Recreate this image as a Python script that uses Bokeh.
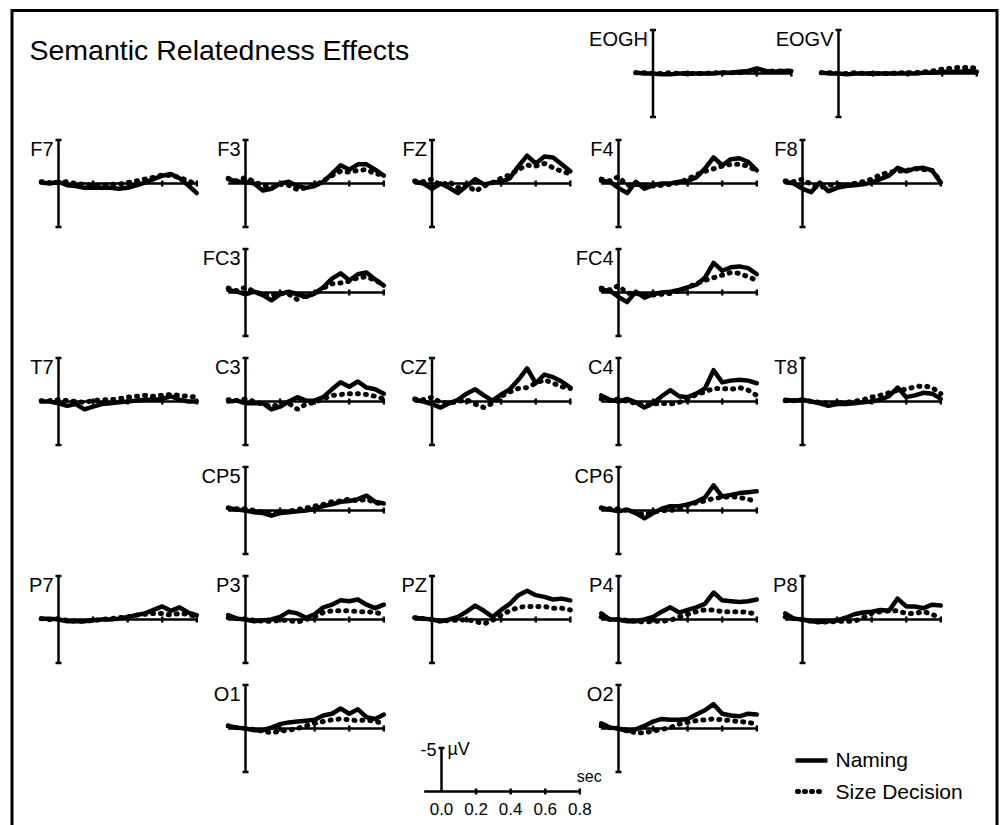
from bokeh.plotting import figure
from bokeh.models import Range1d
from bokeh.core.properties import value
from bokeh.embed import file_html
from bokeh.resources import INLINE

# ---------------- data (microvolts, negative plotted upward) ----------------
times = [-0.1, -0.05, 0.0, 0.05, 0.1, 0.15, 0.2, 0.25, 0.3, 0.35,
         0.4, 0.45, 0.5, 0.55, 0.6, 0.65, 0.7, 0.75, 0.8]

EOGH_naming = [-0.1, 0.0, 0.0, 0.1, 0.1, 0.0, 0.0, 0.0, 0.0, 0.0, -0.1, -0.1, -0.2, -0.3, -0.6, -0.3, -0.2, -0.3, -0.3]
EOGH_size = [-0.1, -0.1, 0.0, 0.0, -0.1, 0.0, 0.0, 0.0, 0.0, -0.1, -0.1, -0.1, -0.1, -0.2, -0.3, -0.2, -0.3, -0.3, -0.3]
EOGV_naming = [-0.1, 0.0, 0.0, 0.1, 0.0, 0.0, 0.0, 0.0, 0.0, 0.0, 0.0, 0.0, -0.1, -0.1, -0.2, -0.2, -0.2, -0.3, -0.2]
EOGV_size = [-0.1, -0.1, 0.0, 0.0, -0.1, 0.0, 0.0, 0.0, 0.0, -0.1, -0.1, -0.1, -0.2, -0.3, -0.5, -0.6, -0.7, -0.7, -0.6]

F7_naming = [-0.1, 0.0, -0.2, 0.2, 0.3, 0.5, 0.5, 0.5, 0.5, 0.6, 0.5, 0.2, -0.1, -0.5, -0.9, -1.1, -0.6, 0.2, 1.1]
F7_size = [-0.2, -0.1, -0.1, -0.2, 0.0, 0.1, 0.2, 0.2, 0.1, 0.1, -0.1, -0.3, -0.5, -0.7, -1.0, -0.9, -0.7, -0.3, 0.1]
F3_naming = [-0.5, -0.2, -0.2, 0.0, 0.8, 0.6, 0.0, -0.2, 0.3, 0.5, 0.3, -0.2, -1.1, -2.1, -1.6, -2.2, -2.2, -1.6, -0.9]
F3_size = [-0.6, -0.3, -0.7, -0.2, 0.2, 0.5, 0.1, 0.2, 0.7, 0.5, 0.2, -0.3, -0.9, -1.4, -1.3, -1.5, -1.6, -1.1, -1.0]
FZ_naming = [-0.2, 0.0, 0.6, 0.0, 0.5, 1.1, 0.3, -0.5, 0.1, -0.1, -0.2, -0.6, -2.0, -3.2, -2.3, -3.1, -3.0, -2.2, -1.4]
FZ_size = [-0.3, -0.2, -0.5, 0.2, -0.2, 0.5, 0.1, 0.9, 0.3, -0.1, -0.6, -1.0, -1.6, -2.1, -2.0, -2.3, -1.8, -1.4, -1.1]
F4_naming = [-0.3, -0.2, 0.5, 1.1, -0.2, 0.6, 0.2, 0.0, 0.0, -0.2, -0.3, -0.7, -1.7, -3.0, -2.1, -2.8, -2.9, -2.5, -1.5]
F4_size = [-0.5, -0.3, -0.8, 0.2, 0.1, 0.2, 0.3, 0.2, 0.1, -0.1, -0.5, -1.0, -1.4, -1.7, -2.0, -2.2, -2.2, -2.0, -1.4]
F8_naming = [-0.2, 0.0, 0.6, 1.0, -0.1, 0.9, 0.5, 0.3, 0.2, 0.1, -0.1, -0.5, -0.9, -1.8, -1.4, -1.7, -1.8, -1.5, -0.1]
F8_size = [-0.3, -0.2, -0.5, 0.1, 0.5, 0.2, 0.1, 0.2, 0.0, -0.2, -0.5, -1.0, -1.3, -1.4, -1.5, -1.7, -1.6, -1.5, -0.2]

FC3_naming = [-0.3, -0.1, 0.2, -0.1, 0.3, 0.9, 0.2, -0.1, 0.2, 0.5, 0.1, -0.6, -1.6, -2.2, -1.4, -2.1, -2.3, -1.5, -0.8]
FC3_size = [-0.5, -0.2, -0.6, -0.1, 0.2, 0.3, 0.1, 0.2, 0.8, 0.3, 0.2, -0.5, -1.0, -1.1, -1.3, -1.7, -1.8, -1.4, -0.9]
FC4_naming = [-0.3, -0.2, 0.5, 1.1, -0.1, 0.6, 0.2, 0.0, -0.1, -0.3, -0.6, -0.9, -1.7, -3.4, -2.5, -2.9, -3.0, -2.8, -2.1]
FC4_size = [-0.5, -0.3, -0.8, 0.1, 0.1, 0.3, 0.3, 0.2, 0.1, -0.2, -0.6, -1.0, -1.4, -1.7, -2.0, -2.3, -2.2, -1.8, -1.4]

T7_naming = [0.0, 0.0, 0.2, 0.5, 0.3, 0.9, 0.6, 0.3, 0.2, 0.1, 0.0, -0.1, -0.2, -0.2, -0.3, -0.6, -0.2, 0.0, 0.0]
T7_size = [-0.1, -0.1, -0.2, -0.1, 0.0, 0.1, -0.1, -0.2, -0.2, -0.3, -0.5, -0.6, -0.7, -0.6, -0.7, -0.8, -0.7, -0.6, -0.5]
C3_naming = [0.0, -0.1, 0.2, 0.2, 0.2, 0.9, 0.6, 0.0, -0.5, -0.1, -0.1, -0.5, -1.4, -2.2, -1.7, -2.3, -1.6, -1.4, -0.9]
C3_size = [-0.2, -0.1, -0.3, 0.0, 0.3, 0.6, 0.3, 0.2, 0.9, 0.3, 0.1, -0.3, -0.7, -0.8, -0.9, -0.9, -0.8, -0.6, -0.3]
CZ_naming = [-0.2, 0.0, 0.3, 0.7, 0.2, -0.2, -0.9, -1.4, -0.7, -0.1, -0.8, -1.4, -2.5, -3.8, -2.1, -3.1, -2.8, -2.3, -1.6]
CZ_size = [-0.3, -0.2, -0.5, 0.1, 0.2, 0.0, -0.2, 0.3, 0.7, 0.2, -0.6, -1.1, -1.5, -1.6, -2.1, -2.5, -2.1, -1.7, -1.5]
C4_naming = [-0.7, -0.2, 0.0, -0.3, 0.1, 0.7, 0.2, -0.6, -1.3, -0.6, -0.5, -0.9, -1.5, -3.6, -2.2, -2.4, -2.5, -2.4, -2.1]
C4_size = [-0.3, -0.1, -0.3, 0.0, 0.2, 0.5, 0.3, 0.2, 0.3, 0.1, -0.3, -0.8, -1.1, -1.5, -1.5, -1.4, -1.6, -1.3, -0.7]
T8_naming = [-0.2, -0.1, -0.2, 0.0, 0.2, 0.5, 0.3, 0.3, 0.2, 0.1, 0.0, -0.2, -0.6, -1.6, -0.5, -0.7, -1.0, -0.9, -0.3]
T8_size = [-0.1, -0.1, -0.2, 0.0, 0.1, 0.2, 0.2, 0.1, 0.0, -0.2, -0.5, -0.7, -1.0, -1.3, -1.4, -1.7, -1.8, -1.6, -0.9]

CP5_naming = [-0.3, -0.1, 0.0, 0.2, 0.3, 0.6, 0.3, 0.2, 0.1, 0.0, -0.2, -0.5, -0.7, -1.0, -1.1, -1.3, -1.7, -1.0, -0.8]
CP5_size = [-0.3, -0.2, -0.2, 0.0, 0.2, 0.3, 0.2, 0.1, -0.1, -0.3, -0.5, -0.7, -1.0, -1.1, -1.3, -1.1, -1.3, -0.9, -0.7]
CP6_naming = [-0.3, -0.1, 0.1, -0.1, 0.3, 0.9, 0.3, -0.2, -0.5, -0.5, -0.7, -1.0, -1.5, -2.9, -1.6, -1.8, -2.0, -2.1, -2.2]
CP6_size = [-0.3, -0.2, -0.2, 0.0, 0.2, 0.5, 0.2, 0.0, 0.0, -0.2, -0.6, -0.9, -1.1, -1.4, -1.5, -1.6, -1.5, -1.3, -1.0]

P7_naming = [-0.1, -0.1, 0.0, 0.2, 0.2, 0.2, 0.1, 0.0, 0.0, -0.1, -0.3, -0.5, -0.7, -1.1, -1.5, -1.0, -1.4, -0.8, -0.5]
P7_size = [-0.1, 0.0, -0.1, 0.1, 0.2, 0.2, 0.1, 0.0, -0.1, -0.2, -0.3, -0.5, -0.6, -0.7, -0.7, -0.5, -0.7, -0.6, -0.3]
P3_naming = [-0.5, -0.1, 0.0, 0.2, 0.1, 0.0, -0.3, -0.9, -0.7, -0.2, -0.6, -1.4, -1.7, -2.2, -2.1, -2.3, -1.7, -1.3, -1.7]
P3_size = [-0.2, -0.1, -0.1, 0.1, 0.2, 0.2, 0.1, 0.1, 0.3, 0.0, -0.3, -0.8, -1.0, -1.0, -1.0, -0.9, -0.9, -0.8, -0.6]
PZ_naming = [-0.2, -0.1, 0.0, 0.2, 0.0, -0.3, -0.9, -1.6, -1.0, -0.3, -1.1, -1.8, -2.8, -3.3, -2.8, -2.6, -2.3, -2.4, -2.2]
PZ_size = [-0.2, -0.1, 0.0, 0.2, 0.1, 0.1, 0.0, 0.2, 0.5, 0.1, -0.5, -1.0, -1.4, -1.5, -1.5, -1.5, -1.3, -1.3, -1.1]
P4_naming = [-0.7, 0.0, 0.0, 0.2, 0.2, 0.0, -0.3, -0.9, -1.4, -0.8, -1.1, -1.4, -1.8, -3.1, -2.2, -2.1, -2.0, -2.1, -2.3]
P4_size = [-0.3, 0.0, 0.0, 0.1, 0.2, 0.3, 0.2, 0.2, 0.1, -0.3, -0.6, -0.9, -1.1, -1.1, -0.9, -0.9, -0.9, -0.8, -0.6]
P8_naming = [-0.7, -0.1, 0.0, 0.2, 0.3, 0.2, 0.1, -0.2, -0.6, -0.8, -0.9, -1.1, -1.0, -2.4, -1.5, -1.5, -1.3, -1.7, -1.6]
P8_size = [-0.3, -0.1, 0.0, 0.2, 0.3, 0.3, 0.2, 0.2, 0.2, -0.2, -0.7, -0.9, -1.0, -1.0, -0.7, -0.7, -0.9, -0.6, -0.1]

O1_naming = [-0.3, -0.1, 0.0, 0.2, 0.2, -0.1, -0.5, -0.7, -0.8, -0.9, -1.0, -1.5, -1.7, -2.3, -1.7, -2.2, -1.3, -1.1, -1.6]
O1_size = [-0.3, -0.1, 0.0, 0.1, 0.3, 0.5, 0.3, 0.2, 0.0, -0.3, -0.6, -0.8, -1.0, -1.1, -1.0, -0.9, -1.0, -0.8, -0.6]
O2_naming = [-0.6, -0.1, 0.0, 0.3, 0.1, -0.3, -0.8, -1.1, -1.0, -1.0, -1.1, -1.6, -2.1, -2.8, -1.7, -1.5, -1.4, -1.7, -1.6]
O2_size = [-0.3, -0.1, 0.0, 0.2, 0.5, 0.5, 0.3, 0.1, -0.1, -0.5, -0.7, -0.9, -1.0, -1.1, -1.0, -0.9, -0.8, -0.7, -0.5]

title_text = "Semantic Relatedness Effects"
series_names = ["Naming", "Size Decision"]
axis_limit_uv = 5.0                     # vertical bar spans +/- 5 microvolts
axis_start_s, axis_end_s = -0.1, 0.8    # baseline interval
tick_times = [0.2, 0.4, 0.6, 0.8]
scale_tick_times = [0.0, 0.2, 0.4, 0.6, 0.8]
scale_tick_labels = ["0.0", "0.2", "0.4", "0.6", "0.8"]
scale_uv_label = "-5"

channels = [
    ("EOGH", EOGH_naming, EOGH_size), ("EOGV", EOGV_naming, EOGV_size),
    ("F7", F7_naming, F7_size), ("F3", F3_naming, F3_size), ("FZ", FZ_naming, FZ_size),
    ("F4", F4_naming, F4_size), ("F8", F8_naming, F8_size),
    ("FC3", FC3_naming, FC3_size), ("FC4", FC4_naming, FC4_size),
    ("T7", T7_naming, T7_size), ("C3", C3_naming, C3_size), ("CZ", CZ_naming, CZ_size),
    ("C4", C4_naming, C4_size), ("T8", T8_naming, T8_size),
    ("CP5", CP5_naming, CP5_size), ("CP6", CP6_naming, CP6_size),
    ("P7", P7_naming, P7_size), ("P3", P3_naming, P3_size), ("PZ", PZ_naming, PZ_size),
    ("P4", P4_naming, P4_size), ("P8", P8_naming, P8_size),
    ("O1", O1_naming, O1_size), ("O2", O2_naming, O2_size),
]

# ---------------- layout (screen pixels of each panel's t=0 / 0 uV point) ----------------
PAGE = 0          # the figure lands at the page's top-left corner
W, H = 1000, 825
SX = 172.9   # px per second
SY = 8.7     # px per microvolt
col_x = [58, 245, 431.5, 618, 802]
row_y = [183, 292, 401, 510, 619, 728]
panel_origin = {
    "EOGH": (652.5, 73), "EOGV": (838, 73),
    "F7": (col_x[0], row_y[0]), "F3": (col_x[1], row_y[0]), "FZ": (col_x[2], row_y[0]),
    "F4": (col_x[3], row_y[0]), "F8": (col_x[4], row_y[0]),
    "FC3": (col_x[1], row_y[1]), "FC4": (col_x[3], row_y[1]),
    "T7": (col_x[0], row_y[2]), "C3": (col_x[1], row_y[2]), "CZ": (col_x[2], row_y[2]),
    "C4": (col_x[3], row_y[2]), "T8": (col_x[4], row_y[2]),
    "CP5": (col_x[1], row_y[3]), "CP6": (col_x[3], row_y[3]),
    "P7": (col_x[0], row_y[4]), "P3": (col_x[1], row_y[4]), "PZ": (col_x[2], row_y[4]),
    "P4": (col_x[3], row_y[4]), "P8": (col_x[4], row_y[4]),
    "O1": (col_x[1], row_y[5]), "O2": (col_x[3], row_y[5]),
}
scale_origin = (441, 791)

FONT = value("Liberation Sans")
INK = "black"

p = figure(width=W, height=H, x_range=Range1d(0, W), y_range=Range1d(H, 0),
           output_backend="svg", toolbar_location=None, min_border=0,
           x_axis_location=None, y_axis_location=None, outline_line_color=None)
p.grid.visible = False
p.background_fill_color = "white"
p.border_fill_color = "white"

xr, yr = {}, {}


def make_ranges(name, ox, oy):
    fx, fy = ox - PAGE, oy - PAGE
    xr[name] = Range1d(-fx / SX, (W - fx) / SX)
    yr[name] = Range1d((H - fy) / SY, -fy / SY)


cap = 3.0 / SX      # half width of bar end caps (s)
tick = 3.0 / SY     # half height of baseline ticks (uV)

for name, naming, size in channels:
    ox, oy = panel_origin[name]
    make_ranges(name, ox, oy)
    kw = dict(x_range_name=name, y_range_name=name)
    x0 = [0, -cap, -cap, axis_start_s] + tick_times
    x1 = [0, cap, cap, axis_end_s] + tick_times
    y0 = [-axis_limit_uv, -axis_limit_uv, axis_limit_uv, 0] + [-tick] * len(tick_times)
    y1 = [axis_limit_uv, -axis_limit_uv, axis_limit_uv, 0] + [tick] * len(tick_times)
    p.segment(x0=x0, y0=y0, x1=x1, y1=y1, line_color=INK, line_width=2.5, **kw)
    p.line(times, size, line_color=INK, line_width=5, line_dash="1 7",
           line_cap="round", **kw)
    p.line(times, naming, line_color=INK, line_width=4.5, line_join="round",
           line_cap="round", **kw)
    p.text(x=[0], y=[-axis_limit_uv], text=[name], x_offset=-5, y_offset=9,
           text_align="right", text_baseline="alphabetic", text_font=FONT,
           text_font_size="20px", text_color=INK, **kw)

# scale bar
make_ranges("scale", *scale_origin)
kw = dict(x_range_name="scale", y_range_name="scale")
sx0 = [0, -cap, axis_start_s] + tick_times
sx1 = [0, cap, axis_end_s] + tick_times
sy0 = [-axis_limit_uv, -axis_limit_uv, 0] + [-tick] * len(tick_times)
sy1 = [0, -axis_limit_uv, 0] + [tick] * len(tick_times)
p.segment(x0=sx0, y0=sy0, x1=sx1, y1=sy1, line_color=INK, line_width=2.5, **kw)
p.text(x=[0], y=[-axis_limit_uv], text=[scale_uv_label], x_offset=-5, y_offset=1,
       text_align="right", text_baseline="alphabetic", text_font=FONT,
       text_font_size="18px", text_color=INK, **kw)
p.text(x=[0], y=[-axis_limit_uv], text=["\u00b5V"], x_offset=6, y_offset=1,
       text_align="left", text_baseline="alphabetic", text_font=FONT,
       text_font_size="18px", text_color=INK, **kw)
p.text(x=scale_tick_times, y=[0] * len(scale_tick_times), text=scale_tick_labels,
       y_offset=17, text_align="center", text_baseline="alphabetic", text_font=FONT,
       text_font_size="17px", text_color=INK, **kw)
p.text(x=[axis_end_s], y=[0], text=["sec"], x_offset=-3, y_offset=-15,
       text_align="left", text_baseline="alphabetic", text_font=FONT,
       text_font_size="16px", text_color=INK, **kw)

p.extra_x_ranges = xr
p.extra_y_ranges = yr

# title
p.text(x=[29 - PAGE], y=[49 - PAGE], text=[title_text], text_align="left",
       text_baseline="alphabetic", text_font=FONT, text_font_size="28.5px",
       text_color=INK)

# legend
lx0, lx1 = 795 - PAGE, 827 - PAGE
p.line([lx0, lx1], [760 - PAGE, 760 - PAGE], line_color=INK, line_width=4.5)
p.line([lx0 + 2, lx1 - 6], [791 - PAGE, 791 - PAGE], line_color=INK, line_width=5,
       line_dash="1 6", line_cap="round")
p.text(x=[835 - PAGE, 835 - PAGE], y=[759 - PAGE, 791 - PAGE], text=series_names,
       text_align="left", text_baseline="alphabetic", text_font=FONT,
       text_font_size="21px", text_color=INK)

# frame border (open at the bottom, continues past the page edge)
bl, bt, br = 11.5 - PAGE, 10 - PAGE, 996.5 - PAGE
p.line([bl, bl, br, br], [H + 20, bt, bt, H + 20], line_color=INK,
       line_width=3, line_join="miter")

open("out.html", "w").write(file_html(p, INLINE))
